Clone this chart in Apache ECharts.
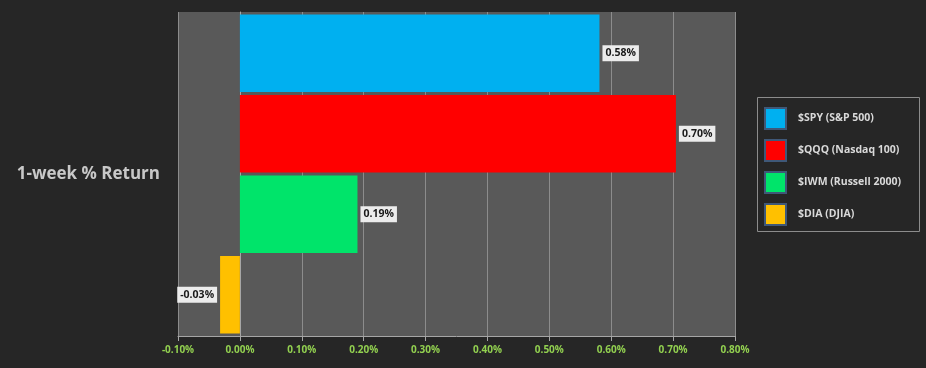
<!DOCTYPE html>
<html><head><meta charset="utf-8">
<script src="https://cdn.jsdelivr.net/npm/echarts@6/dist/echarts.min.js"></script>
<style>html,body{margin:0;padding:0;background:#262626;}#c{width:926px;height:368px;}</style>
</head><body><div id="c"></div>
<script>
const categories = ['1-week % Return'];
const seriesNames = ['$SPY (S&P 500)', '$QQQ (Nasdaq 100)', '$IWM (Russell 2000)', '$DIA (DJIA)'];
const seriesValues = [0.581, 0.7045, 0.19, -0.032];
const seriesColors = ['#00b0f0', '#ff0000', '#00e46a', '#ffc000'];
const xTicks = [-0.1, 0.8, 0.1]; // min, max, interval

const chart = echarts.init(document.getElementById('c'));
const series = seriesNames.map((n, i) => ({
  name: n,
  type: 'bar',
  data: [{
    value: seriesValues[i],
    label: { position: seriesValues[i] >= 0 ? 'right' : 'left' }
  }],
  itemStyle: { color: seriesColors[i] },
  barGap: '4%',
  barCategoryGap: '1.5%',
  label: {
    show: true, distance: 3,
    formatter: p => p.value.toFixed(2) + '%',
    color: '#1a1a1a', fontSize: 10.5, fontWeight: 'bold', fontFamily: 'Open Sans',
    backgroundColor: '#ececec', padding: [3, 3, 2, 3]
  }
}));
chart.setOption({
  backgroundColor: '#262626',
  animation: false,
  grid: { left: 178, right: 191, top: 12, bottom: 32, show: true, backgroundColor: '#595959', borderWidth: 0 },
  xAxis: {
    type: 'value', min: xTicks[0], max: xTicks[1], interval: xTicks[2],
    axisLine: { show: true, lineStyle: { color: '#a6a6a6' } },
    axisTick: { show: true, length: 5, lineStyle: { color: '#a6a6a6' } },
    splitLine: { show: true, lineStyle: { color: '#8c8c8c' } },
    axisLabel: { color: '#92d050', fontSize: 10, fontWeight: 'bold', fontFamily: 'Open Sans', margin: 9,
      formatter: v => v.toFixed(2) + '%' }
  },
  yAxis: {
    type: 'category', data: categories, inverse: true,
    axisLine: { show: true, lineStyle: { color: '#a6a6a6' } },
    axisTick: { show: false },
    axisLabel: { color: '#c8c8c8', fontSize: 17, fontWeight: 'bold', fontFamily: 'Open Sans', margin: 18, padding: [9, 0, 0, 0] }
  },
  legend: {
    orient: 'vertical', left: 764, top: 107, padding: 0,
    icon: 'rect',
    itemWidth: 21, itemHeight: 21, itemGap: 9,
    itemStyle: { borderColor: '#3f5878', borderWidth: 2 },
    textStyle: { color: '#d9d9d9', fontSize: 10.5, fontWeight: 'bold', fontFamily: 'Open Sans', lineHeight: 14, padding: [0, 0, 0, 7] },
    data: seriesNames
  },
  graphic: [{
    type: 'rect', shape: { x: 757.5, y: 97.5, width: 162, height: 134 },
    style: { fill: null, stroke: '#8c8c8c', lineWidth: 1 }, silent: true
  }],
  series
});
</script></body></html>
